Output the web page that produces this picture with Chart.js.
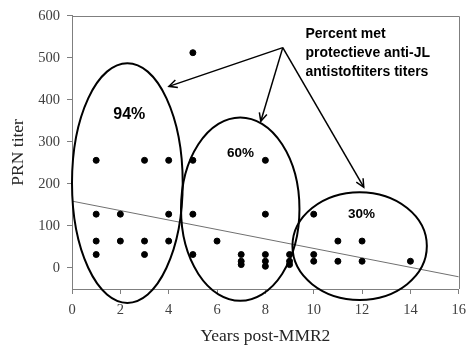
<!DOCTYPE html>
<html><head><meta charset="utf-8">
<script src="https://cdn.jsdelivr.net/npm/chart.js@4/dist/chart.umd.min.js"></script>
<style>html,body{margin:0;padding:0;background:#fff}#wrap{width:473px;height:347px}</style>
</head><body><div id="wrap"><canvas id="c" width="473" height="347"></canvas></div>
<script>
// Data
const years  = [1,1,1,1, 2,2, 3,3,3, 4,4,4, 5,5,5,5, 6, 7,7,7, 8,8,8,8,8, 9,9,9, 10,10,10, 11,11, 12,12, 14];
const titers = [256,128,64,32, 128,64, 256,64,32, 256,128,64, 512,256,128,32, 64, 32,16,8, 256,128,32,16,4, 32,16,8, 128,32,16, 64,16, 64,16, 16];
const trendYears = [0, 16];
const trendTiters = [159, -21];
const yTickValues = [0,100,200,300,400,500,600];
const xTickValues = [0,2,4,6,8,10,12,14,16];
const groupLabels = ['94%', '60%', '30%'];
const noteLines = ['Percent met', 'protectieve anti-JL', 'antistoftiters titers'];

// Annotation geometry in data units
const ellipses = [
  {cx:2.29, cy:202, rx:2.29, ry:285},
  {cx:6.96, cy:140, rx:2.45, ry:218},
  {cx:11.9, cy:52,  rx:2.78, ry:128}
];
const labelPos = [{x:2.37,y:365},{x:6.97,y:273},{x:11.98,y:127}];
const labelSizes = [16, 13.5, 13.5];
const arrowFrom = {x:8.72, y:524};
const arrowTo = [{x:4.01,y:432},{x:7.81,y:349},{x:12.07,y:192}];
const notePos = {x:9.66, y:555};

const pts = years.map((x,i)=>({x, y:titers[i]}));
const trend = trendYears.map((x,i)=>({x, y:trendTiters[i]}));

const serif = '"Liberation Serif", "Times New Roman", serif';
const sans = '"Liberation Sans", Arial, sans-serif';

const annot = {
  id:'annot',
  afterDatasetsDraw(chart){
    const {ctx, chartArea:a, scales:{x, y}} = chart;
    ctx.save();
    // top & right border
    ctx.strokeStyle = '#7f7f7f'; ctx.lineWidth = 1;
    ctx.beginPath();
    ctx.moveTo(a.left, Math.round(a.top)+0.5); ctx.lineTo(Math.round(a.right)+0.5, Math.round(a.top)+0.5); ctx.lineTo(Math.round(a.right)+0.5, a.bottom);
    ctx.stroke();
    // ellipses
    ctx.strokeStyle = '#000'; ctx.lineWidth = 2;
    ellipses.forEach(e=>{
      const cx = x.getPixelForValue(e.cx), cy = y.getPixelForValue(e.cy);
      const rx = x.getPixelForValue(e.cx+e.rx)-cx, ry = cy - y.getPixelForValue(e.cy+e.ry);
      ctx.beginPath(); ctx.ellipse(cx, cy, rx, ry, 0, 0, Math.PI*2); ctx.stroke();
    });
    // arrows
    ctx.lineWidth = 1.5;
    const fx = x.getPixelForValue(arrowFrom.x), fy = y.getPixelForValue(arrowFrom.y);
    arrowTo.forEach(t=>{
      const tx = x.getPixelForValue(t.x), ty = y.getPixelForValue(t.y);
      ctx.beginPath(); ctx.moveTo(fx, fy); ctx.lineTo(tx, ty); ctx.stroke();
      const ang = Math.atan2(ty-fy, tx-fx), L = 9, w = 0.45;
      ctx.beginPath();
      ctx.moveTo(tx - L*Math.cos(ang-w), ty - L*Math.sin(ang-w));
      ctx.lineTo(tx, ty);
      ctx.lineTo(tx - L*Math.cos(ang+w), ty - L*Math.sin(ang+w));
      ctx.stroke();
    });
    // group labels
    ctx.fillStyle = '#000';
    ctx.textAlign = 'center'; ctx.textBaseline = 'middle';
    groupLabels.forEach((s,i)=>{
      ctx.font = 'bold ' + labelSizes[i] + 'px ' + sans;
      ctx.fillText(s, x.getPixelForValue(labelPos[i].x), y.getPixelForValue(labelPos[i].y));
    });
    // note text
    ctx.font = 'bold 14px ' + sans;
    ctx.textAlign = 'left';
    const nx = x.getPixelForValue(notePos.x), ny = y.getPixelForValue(notePos.y);
    noteLines.forEach((s,i)=>ctx.fillText(s, nx, ny + i*19));
    ctx.restore();
  }
};

new Chart(document.getElementById('c'), {
  type:'scatter',
  data:{datasets:[
    {data:pts, backgroundColor:'#000', borderColor:'#000', pointRadius:3, pointHoverRadius:3, order:1},
    {type:'line', data:trend, borderColor:'#707070', borderWidth:1, pointRadius:0, fill:false, order:2}
  ]},
  options:{
    responsive:false, animation:false, devicePixelRatio:1,
    layout:{padding:{left:0, right:10, top:15, bottom:0}},
    plugins:{legend:{display:false}, tooltip:{enabled:false}},
    scales:{
      x:{type:'linear', min:0, max:16,
        afterBuildTicks(s){ s.ticks = xTickValues.map(v=>({value:v})); },
        afterFit(s){ s.height = 58; },
        ticks:{font:{family:serif, size:14.5}, color:'#404040', padding:7, maxRotation:0, autoSkip:false},
        grid:{drawOnChartArea:false, drawTicks:true, tickLength:5, color:'#7f7f7f'},
        border:{color:'#7f7f7f'},
        title:{display:true, text:'Years post-MMR2', font:{family:serif, size:17.5}, color:'#262626', padding:{top:0, bottom:0}}
      },
      y:{type:'linear', min:-50, max:600,
        afterBuildTicks(s){ s.ticks = yTickValues.map(v=>({value:v})); },
        afterFit(s){ s.width = 72; },
        ticks:{font:{family:serif, size:14.5}, color:'#404040', padding:7, autoSkip:false},
        grid:{drawOnChartArea:false, drawTicks:true, tickLength:5, color:'#7f7f7f'},
        border:{color:'#7f7f7f'},
        title:{display:true, text:'PRN titer', font:{family:serif, size:17.5}, color:'#262626', padding:{top:8, bottom:0}}
      }
    }
  },
  plugins:[annot]
});
</script>
</body></html>
